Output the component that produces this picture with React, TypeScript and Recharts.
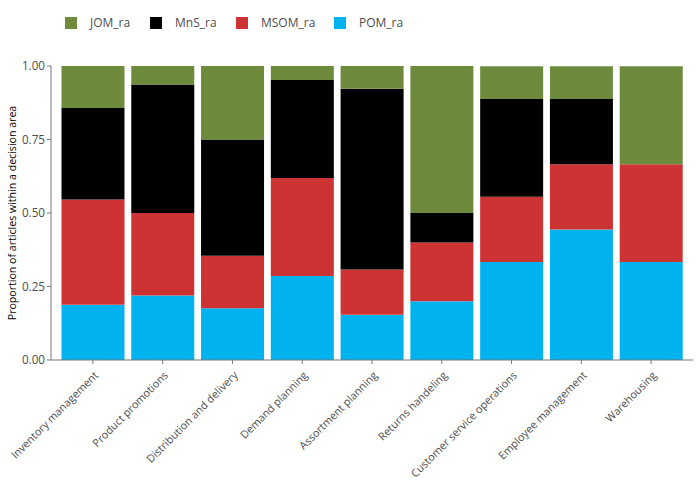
import { BarChart, Bar, XAxis, YAxis } from 'recharts';

const categories = [
  'Inventory management',
  'Product promotions',
  'Distribution and delivery',
  'Demand planning',
  'Assortment planning',
  'Returns handeling',
  'Customer service operations',
  'Employee management',
  'Warehousing',
];

const pomRa = [0.188, 0.219, 0.176, 0.286, 0.154, 0.2, 0.333, 0.444, 0.333];
const msomRa = [0.358, 0.281, 0.179, 0.333, 0.154, 0.2, 0.222, 0.222, 0.333];
const mnsRa = [0.311, 0.437, 0.395, 0.333, 0.615, 0.1, 0.333, 0.222, 0];
const jomRa = [0.143, 0.063, 0.25, 0.048, 0.077, 0.5, 0.111, 0.111, 0.333];

const yTicks = [0, 0.25, 0.5, 0.75, 1];

// bottom of the stack first
const SERIES = [
  { key: 'POM_ra', values: pomRa, color: '#00B2EE' },
  { key: 'MSOM_ra', values: msomRa, color: '#CD3333' },
  { key: 'MnS_ra', values: mnsRa, color: '#000000' },
  { key: 'JOM_ra', values: jomRa, color: '#6E8B3D' },
];

const data = categories.map((category, i) => {
  const row: Record<string, string | number> = { category };
  SERIES.forEach((s) => {
    row[s.key] = s.values[i];
  });
  return row;
});

const FONT = "'Open Sans', 'DejaVu Sans', sans-serif";
const TEXT = '#4D4D4D';
const AXIS = '#777777';

function XTick(props: any) {
  const { x, y, payload } = props;
  const tx = x + 4;
  const ty = y + 8;
  return (
    <text
      x={tx}
      y={ty}
      transform={`rotate(-45, ${tx}, ${ty})`}
      textAnchor="end"
      dominantBaseline="middle"
      fontSize={10.8}
      fill={TEXT}
      fontFamily={FONT}
    >
      {payload.value}
    </text>
  );
}

function LegendRow() {
  const items = [...SERIES].reverse();
  const lefts = [65, 150, 236, 334];
  return (
    <div style={{ position: 'absolute', left: 0, top: 0, width: 700, height: 46 }}>
      {items.map((s, i) => (
        <div
          key={s.key}
          style={{
            position: 'absolute',
            left: lefts[i],
            top: 17,
            display: 'flex',
            alignItems: 'center',
            fontFamily: FONT,
            fontSize: 12,
            color: TEXT,
          }}
        >
          <span style={{ display: 'inline-block', width: 12, height: 12, background: s.color }} />
          <span style={{ marginLeft: 13, lineHeight: '12px' }}>{s.key}</span>
        </div>
      ))}
    </div>
  );
}

export default function App() {
  return (
    <div style={{ position: 'absolute', left: 0, top: 0, width: 700, height: 500, background: '#FFFFFF' }}>
      <BarChart
        width={700}
        height={500}
        data={data}
        margin={{ top: 66, right: 7, bottom: 0, left: 0 }}
        barCategoryGap="5%"
      >
        <XAxis
          dataKey="category"
          height={140}
          padding={{ left: 7, right: 7 }}
          interval={0}
          tick={<XTick />}
          tickSize={4}
          tickLine={{ stroke: AXIS }}
          axisLine={{ stroke: AXIS }}
        />
        <YAxis
          width={51}
          domain={[0, 1]}
          ticks={yTicks}
          tickFormatter={(v: number) => v.toFixed(2)}
          tickSize={4}
          tick={{ fontSize: 11.7, fill: TEXT, fontFamily: FONT }}
          tickLine={{ stroke: AXIS }}
          axisLine={{ stroke: AXIS }}
          label={{
            value: 'Proportion of articles within a decision area',
            angle: -90,
            position: 'insideLeft',
            offset: 12,
            style: { textAnchor: 'middle', fontSize: 10.6, fill: '#000000', fontFamily: FONT },
          }}
        />
        {SERIES.map((s) => (
          <Bar key={s.key} dataKey={s.key} stackId="a" fill={s.color} isAnimationActive={false} />
        ))}
      </BarChart>
      <LegendRow />
    </div>
  );
}
